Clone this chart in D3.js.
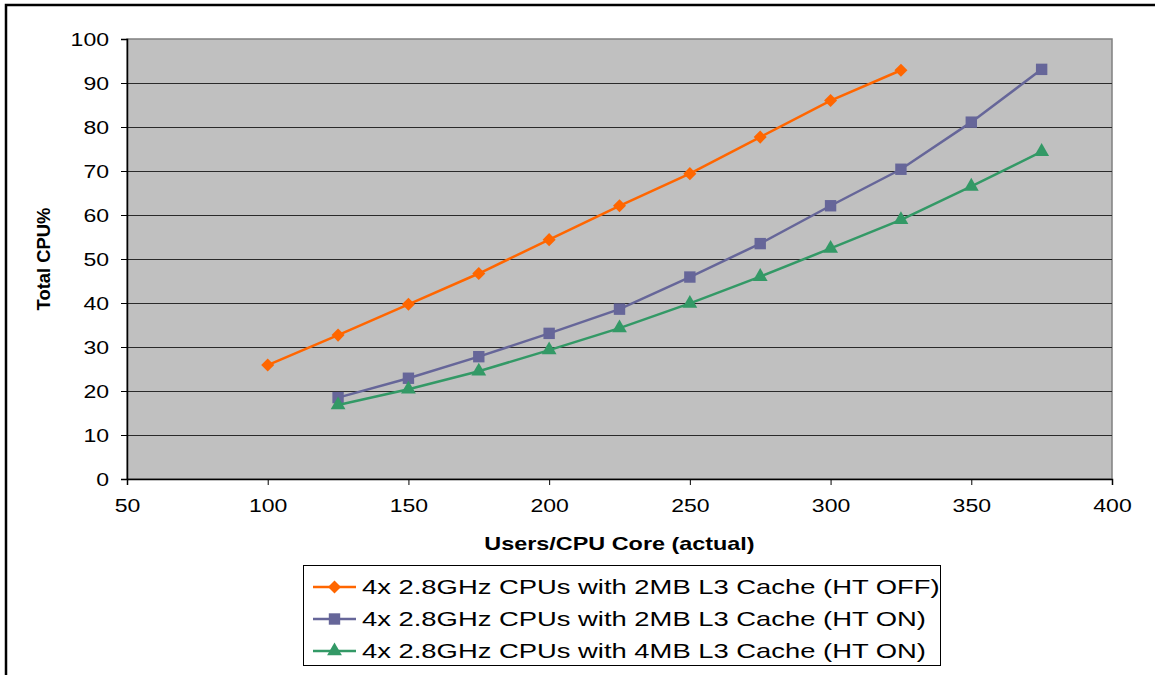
<!DOCTYPE html>
<html><head><meta charset="utf-8">
<script src="https://cdn.jsdelivr.net/npm/d3@7"></script>
<style>body{margin:0;background:#fff}svg{display:block;font-family:"Liberation Sans",Arial,sans-serif}</style>
</head><body>
<svg id="c" width="1155" height="675"></svg>
<script>
const xUsers1 = [100,125,150,175,200,225,250,275,300,325];
const htOff2MB = [25.9,32.7,39.7,46.7,54.4,62.1,69.4,77.7,86.0,92.9];
const xUsers2 = [125,150,175,200,225,250,275,300,325,350,375];
const htOn2MB = [18.5,22.9,27.8,33.1,38.6,45.9,53.5,62.1,70.4,81.1,93.1];
const htOn4MB = [16.8,20.4,24.5,29.3,34.3,39.9,46.0,52.4,58.9,66.5,74.4];
const seriesNames = ["4x 2.8GHz CPUs with 2MB L3 Cache (HT OFF)","4x 2.8GHz CPUs with 2MB L3 Cache (HT ON)","4x 2.8GHz CPUs with 4MB L3 Cache (HT ON)"];
const seriesColors = ["#FF6600","#666699","#339966"];
const seriesMarkers = ["diamond","square","triangle"];
const xTicks = [50,100,150,200,250,300,350,400];
const yTicks = [0,10,20,30,40,50,60,70,80,90,100];
const xTitle = "Users/CPU Core (actual)";
const yTitle = "Total CPU%";

const series = [
  {name:seriesNames[0], color:seriesColors[0], marker:seriesMarkers[0], pts:xUsers1.map((x,i)=>[x,htOff2MB[i]])},
  {name:seriesNames[1], color:seriesColors[1], marker:seriesMarkers[1], pts:xUsers2.map((x,i)=>[x,htOn2MB[i]])},
  {name:seriesNames[2], color:seriesColors[2], marker:seriesMarkers[2], pts:xUsers2.map((x,i)=>[x,htOn4MB[i]])}
];

const svg = d3.select("#c");
const L=127, R=1112, T=39, B=479;
const x = d3.scaleLinear().domain([50,400]).range([L,R]);
const y = d3.scaleLinear().domain([0,100]).range([B,T]);
const SX = 1.28; // horizontal glyph stretch seen in the reference

// outer frame (chart border, partly cropped)
svg.append("path").attr("d","M6,680 V5 H1160").attr("fill","none").attr("stroke","#000").attr("stroke-width",2.5);

// plot area
svg.append("rect").attr("x",L).attr("y",T).attr("width",R-L).attr("height",B-T)
  .attr("fill","#C0C0C0").attr("stroke","#808080").attr("stroke-width",1.5);

// gridlines
svg.append("g").selectAll("line").data(yTicks.filter(d=>d>0&&d<100)).join("line")
  .attr("x1",L).attr("x2",R).attr("y1",d=>Math.round(y(d))+0.5).attr("y2",d=>Math.round(y(d))+0.5)
  .attr("stroke","#2a2a2a").attr("stroke-width",1);

// axes
const fmt = d3.format("d");
const gx = svg.append("g").attr("transform",`translate(0,${B})`)
  .call(d3.axisBottom(x).tickValues(xTicks).tickFormat(fmt).tickSize(6).tickPadding(14));
const gy = svg.append("g").attr("transform",`translate(${L},0)`)
  .call(d3.axisLeft(y).tickValues(yTicks).tickFormat(fmt).tickSize(6).tickPadding(12));
[gx,gy].forEach(g=>{
  g.select(".domain").attr("stroke","#000").attr("stroke-width",1.5);
  g.selectAll(".tick line").attr("stroke","#000");
  g.selectAll(".tick text").attr("font-size",18).attr("fill","#000").attr("font-family","Liberation Sans, Arial, sans-serif");
});
gy.selectAll(".tick text").attr("dy","0.35em").each(function(){
  const t = d3.select(this); const tx = +t.attr("x");
  t.attr("x",0).attr("transform",`translate(${tx},0) scale(${SX},1)`);
});
gx.selectAll(".tick text").attr("transform",`scale(${SX},1)`);

// axis titles
svg.append("text").attr("transform",`translate(${(L+R)/2},550) scale(1.3,1)`).attr("text-anchor","middle")
  .attr("font-weight","bold").attr("font-size",18).text(xTitle);
svg.append("text").attr("transform",`translate(50,${(T+B)/2}) rotate(-90) scale(1.15,1.15)`).attr("text-anchor","middle")
  .attr("font-weight","bold").attr("font-size",16).text(yTitle);

const sym = {diamond:d3.symbolSquare, square:d3.symbolSquare, triangle:d3.symbolTriangle};
const size = {diamond:85, square:130, triangle:95};
const rot = {diamond:45, square:0, triangle:0};
const line = d3.line().x(d=>x(d[0])).y(d=>y(d[1]));

series.forEach(s=>{
  const g = svg.append("g");
  g.append("path").attr("d",line(s.pts)).attr("fill","none").attr("stroke",s.color).attr("stroke-width",2.5);
  g.selectAll("path.m").data(s.pts).join("path").attr("class","m")
    .attr("transform",d=>`translate(${x(d[0])},${y(d[1])}) rotate(${rot[s.marker]})`)
    .attr("d",d3.symbol().type(sym[s.marker]).size(size[s.marker])).attr("fill",s.color);
});

// legend
const lg = svg.append("g");
lg.append("rect").attr("x",303.5).attr("y",565.5).attr("width",637).attr("height",100)
  .attr("fill","#fff").attr("stroke","#000").attr("stroke-width",1);
series.forEach((s,i)=>{
  const cy = 587 + i*32;
  lg.append("line").attr("x1",313).attr("x2",356).attr("y1",cy).attr("y2",cy).attr("stroke",s.color).attr("stroke-width",2.5);
  lg.append("path").attr("transform",`translate(334.5,${cy}) rotate(${rot[s.marker]})`)
    .attr("d",d3.symbol().type(sym[s.marker]).size(size[s.marker])).attr("fill",s.color);
  lg.append("text").attr("transform",`translate(362,${cy}) scale(1.37,1)`).attr("dy","0.36em").attr("font-size",20).text(s.name);
});
</script>
</body></html>
